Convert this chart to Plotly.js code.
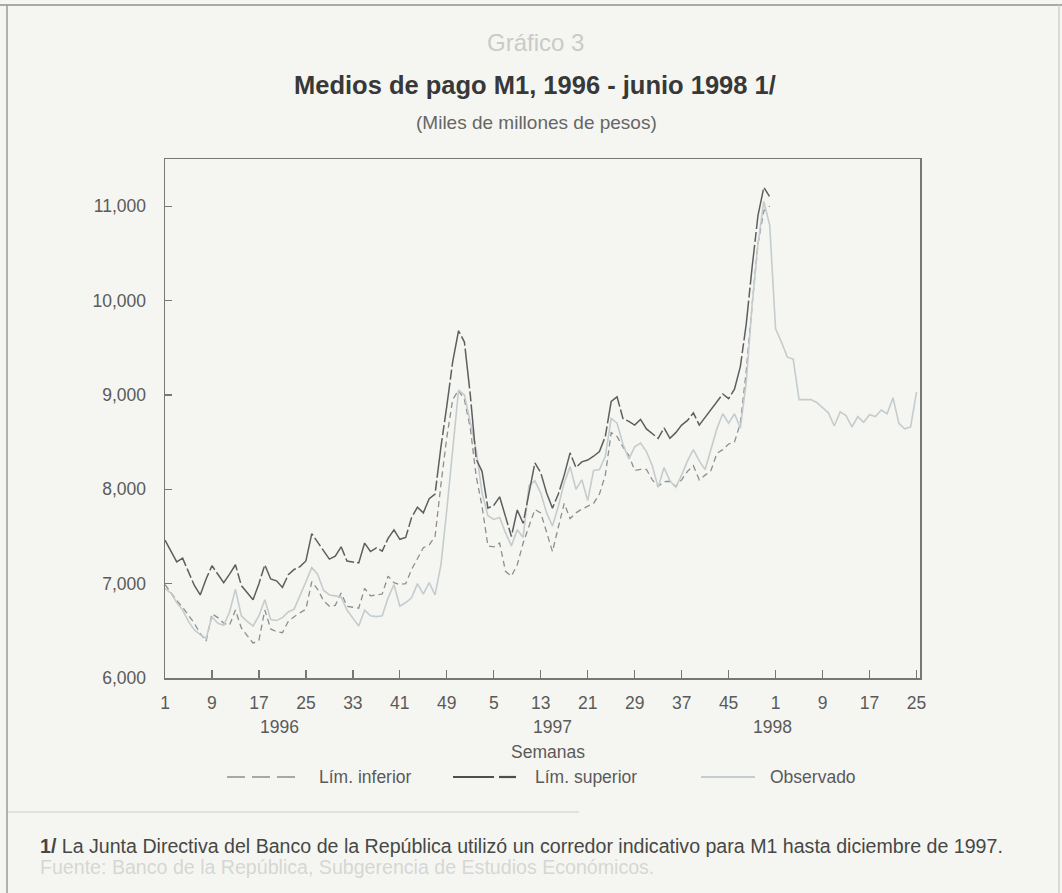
<!DOCTYPE html>
<html><head><meta charset="utf-8">
<script src="https://cdn.plot.ly/plotly-3.0.1.min.js"></script>
<style>html,body{margin:0;padding:0;background:#f5f6f1;} #chart{width:1062px;height:893px;}</style>
</head><body><div id="chart"></div>
<script>
// Weekly values (miles de millones de pesos), week 1 of 1996 onwards
const limSuperior = [7460,7350,7230,7270,7120,6980,6880,7050,7190,7100,7010,7100,7200,6980,6900,6830,7000,7200,7050,7030,
  6960,7095,7150,7180,7240,7530,7440,7350,7260,7290,7390,7240,7230,7220,7430,7340,7380,7345,7480,7570,
  7470,7490,7700,7810,7750,7900,7950,8450,8880,9350,9680,9560,9000,8320,8190,7800,7830,7920,7710,7500,
  7780,7640,7960,8280,8175,7960,7800,7950,8150,8386,8230,8290,8310,8350,8400,8560,8930,8980,8750,8720,
  8680,8740,8640,8590,8540,8650,8540,8600,8680,8730,8810,8680,8760,8850,8920,9010,8960,9060,9300,9750,
  10350,10900,11200,11100];
const limInferior = [6990,6900,6820,6750,6670,6580,6470,6390,6680,6640,6580,6560,6720,6530,6450,6370,6400,6720,6520,6490,
  6480,6600,6650,6690,6730,7020,6940,6820,6760,6770,6900,6760,6750,6740,6950,6870,6880,6890,7080,7010,
  6990,7000,7150,7260,7380,7410,7500,8050,8550,8950,9050,8950,8650,8140,7820,7400,7390,7430,7130,7080,
  7200,7430,7600,7785,7750,7540,7340,7600,7850,7690,7750,7790,7820,7850,7950,8150,8600,8560,8450,8360,
  8200,8210,8210,8100,8030,8080,8085,8030,8100,8190,8250,8100,8150,8200,8380,8420,8480,8500,8700,9250,
  9950,10600,10950,11000];
const observado = [6950,6900,6800,6720,6600,6510,6460,6420,6650,6580,6560,6700,6940,6660,6600,6550,6660,6830,6620,6610,
  6640,6700,6730,6870,7020,7170,7100,6930,6880,6870,6860,6720,6630,6550,6720,6660,6650,6660,6850,6990,
  6760,6800,6850,7000,6890,7010,6880,7200,7780,8450,9050,9000,8700,8420,7960,7720,7680,7700,7540,7400,
  7570,7490,8040,8090,7960,7750,7610,7820,8070,8240,8000,8100,7880,8200,8210,8350,8750,8700,8480,8320,
  8450,8490,8400,8250,8020,8230,8090,8020,8150,8300,8420,8300,8210,8440,8640,8800,8700,8800,8650,9130,
  9950,10600,11050,10800,9700,9560,9400,9380,8950,8950,8950,8920,8870,8810,8670,8820,8780,8660,8770,8710,
  8790,8770,8840,8800,8970,8700,8640,8660,9030];
const tickLabels = ['1','9','17','25','33','41','49','5','13','21','29','37','45','1','9','17','25'];
const yearLabels = ['1996','1997','1998'];
const seriesNames = ['Lím. inferior','Lím. superior','Observado'];

const FN = '"Liberation Sans",Arial,sans-serif';
const FS = '"Liberation Sans",Arial,sans-serif';
const W = 1062, H = 893;
const L = 165, R = 920, T = 159, B = 678;
const px = x => (x - L) / (R - L);
const py = y => (B - y) / (B - T);
const idx = a => a.map((_, i) => i);

const traces = [
  {x: idx(limInferior), y: limInferior, type: 'scatter', mode: 'lines', name: seriesNames[0],
   line: {color: '#8e8e8e', width: 1.3, dash: '6px,4px'}},
  {x: idx(observado), y: observado, type: 'scatter', mode: 'lines', name: seriesNames[2],
   line: {color: '#c4ccd0', width: 1.6}},
  {x: idx(limSuperior), y: limSuperior, type: 'scatter', mode: 'lines', name: seriesNames[1],
   line: {color: '#5e5e5e', width: 1.5, dash: '40px,3px,10px,3px'}}
];

const ann = [];
function txt(t, x, y, size, color, opts) {
  ann.push(Object.assign({text: t, x: px(x), y: py(y), xref: 'paper', yref: 'paper', showarrow: false,
    xanchor: 'center', yanchor: 'middle', font: {family: FN, size: size, color: color}}, opts || {}));
}
txt('Gráfico 3', 535, 43, 24, '#cacaca', {font: {family: FS, size: 24, color: '#cacaca'}});
txt('Medios de pago M1, 1996 - junio 1998 1/', 535, 85, 25.5, '#383838', {font: {family: FS, size: 25.5, color: '#383838', weight: 'bold'}});
txt('(Miles de millones de pesos)', 536, 122, 19, '#666666');
const yearX = [279, 552, 772];
yearLabels.forEach((t, i) => txt(t, yearX[i], 727, 17.5, '#5a5a5a'));
txt('Semanas', 548, 752, 17.5, '#5a5a5a');
// legend
txt(seriesNames[0], 317, 777, 17.5, '#5a5a5a', {xanchor: 'left'});
txt(seriesNames[1], 533, 777, 17.5, '#5a5a5a', {xanchor: 'left'});
txt(seriesNames[2], 768, 777, 17.5, '#5a5a5a', {xanchor: 'left'});
txt('<b>1/</b> La Junta Directiva del Banco de la República utilizó un corredor indicativo para M1 hasta diciembre de 1997.', 38, 846, 19.6, '#474747', {xanchor: 'left'});
txt('Fuente: Banco de la República, Subgerencia de Estudios Económicos.', 38, 867, 19.6, '#d6d6d6', {xanchor: 'left'});

function ln(x0, y0, x1, y1, color, width, dash) {
  return {type: 'line', xref: 'paper', yref: 'paper', x0: px(x0), y0: py(y0), x1: px(x1), y1: py(y1),
    line: {color: color, width: width, dash: dash || 'solid'}};
}
const shapes = [
  ln(227, 777, 295, 777, '#8e8e8e', 1.5, '18px,7px'),
  ln(453, 777, 494, 777, '#4e4e4e', 2.2),
  ln(499, 777, 516, 777, '#4e4e4e', 2.2),
  ln(701, 777, 755, 777, '#c4ccd0', 2),
  ln(7, 812, 579, 812, '#d9dad5', 1.5),
  ln(0, 5, W, 5, '#a9a9a9', 2),
  ln(7, 5, 7, H, '#9a9a9a', 1.5),
  ln(1059, 5, 1059, H, '#cfcfcf', 1.5)
];

const layout = {
  width: W, height: H,
  margin: {l: L, r: W - R, t: T, b: H - B, pad: 0},
  paper_bgcolor: '#f5f6f1', plot_bgcolor: '#f5f6f1',
  showlegend: false,
  font: {family: FN, size: 17, color: '#5a5a5a'},
  xaxis: {range: [0, 128.6], tickvals: tickLabels.map((_, i) => i * 8), ticktext: tickLabels,
    ticks: 'inside', ticklen: 8, tickcolor: '#777', tickwidth: 1.3,
    showline: true, mirror: true, linecolor: '#777', linewidth: 1.5,
    showgrid: false, zeroline: false, tickfont: {family: FN, size: 17.5, color: '#5a5a5a'}, ticklabelstandoff: 8},
  yaxis: {range: [6000, 11500], tickvals: [6000, 7000, 8000, 9000, 10000, 11000], tickformat: ',d',
    ticks: 'inside', ticklen: 7, tickcolor: '#777', tickwidth: 1.3,
    showline: true, mirror: true, linecolor: '#777', linewidth: 1.5,
    showgrid: false, zeroline: false, tickfont: {family: FN, size: 17.5, color: '#5a5a5a'}, ticklabelstandoff: 14},
  annotations: ann,
  shapes: shapes
};
Plotly.newPlot('chart', traces, layout, {staticPlot: true, displayModeBar: false});
</script></body></html>
